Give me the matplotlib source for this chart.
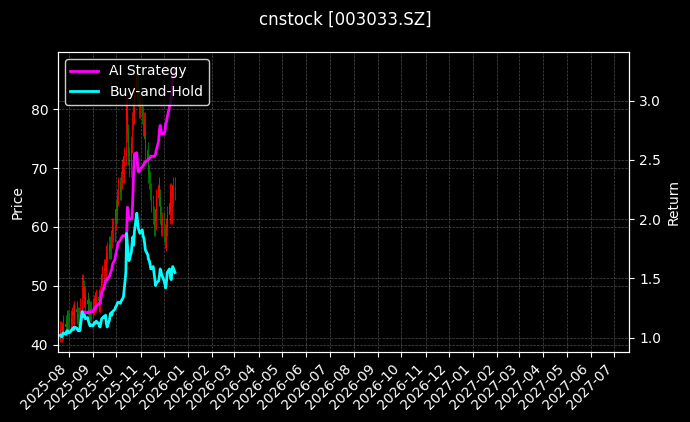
import matplotlib
matplotlib.use("Agg")
import matplotlib.pyplot as plt
import matplotlib.dates as mdates
import pandas as pd
import numpy as np

plt.style.use("dark_background")

dates = pd.bdate_range("2025-07-21", periods=106)

closes = [42.5, 42.0, 42.3, 43.0, 43.5,
          43.0, 44.0, 44.5, 44.0, 43.5,
          44.5, 45.0, 45.5, 45.0, 46.0,
          45.5, 45.0, 44.5, 45.0, 46.5,
          50.5, 49.5, 48.0, 48.5, 47.0,
          47.5, 46.5, 46.0, 45.5, 46.0,
          46.5, 47.0, 47.5, 47.0, 48.0,
          47.5, 47.0, 48.5, 50.0, 52.0,
          53.0, 52.5, 54.0, 55.5, 56.0,
          57.0, 56.0, 58.0, 60.0, 59.0,
          61.0, 63.0, 62.0, 65.0, 67.0,
          66.0, 68.0, 70.0, 69.0, 72.0,
          78.0, 82.0, 76.0, 72.0, 70.0,
          74.0, 78.0, 80.0, 79.0, 83.0,
          86.0, 84.0, 82.0, 80.0, 81.0,
          79.0, 77.0, 78.0, 75.0, 73.0,
          71.0, 69.0, 68.0, 66.0, 64.0,
          62.0, 60.0, 61.0, 63.0, 65.0,
          67.0, 65.0, 62.0, 60.0, 61.0,
          59.0, 58.0, 57.5, 60.0, 62.0,
          64.0, 66.0, 62.0, 65.0, 67.0,
          66.0]
opens = [42.0] + closes[:-1]
wick = 1.5

buy_hold = [1.02, 1.01, 1.01, 1.03, 1.04,
            1.03, 1.05, 1.06, 1.05, 1.04,
            1.06, 1.07, 1.08, 1.07, 1.09,
            1.08, 1.07, 1.06, 1.07, 1.06,
            1.22, 1.20, 1.18, 1.19, 1.16,
            1.17, 1.14, 1.12, 1.10, 1.11,
            1.10, 1.12, 1.13, 1.12, 1.14,
            1.12, 1.10, 1.09, 1.13, 1.16,
            1.18, 1.17, 1.19, 1.12, 1.09,
            1.15, 1.20, 1.21, 1.19, 1.22,
            1.24, 1.26, 1.27, 1.29, 1.30,
            1.29, 1.31, 1.32, 1.33, 1.35,
            1.55, 1.88, 1.78, 1.70, 1.65,
            1.72, 1.80, 1.85, 1.78, 1.90,
            2.05, 1.98, 1.92, 1.90, 1.88,
            1.91, 1.86, 1.84, 1.80, 1.74,
            1.70, 1.66, 1.65, 1.62, 1.58,
            1.60, 1.55, 1.50, 1.44, 1.46,
            1.48, 1.52, 1.58, 1.56, 1.53,
            1.48, 1.45, 1.42, 1.47, 1.55,
            1.58, 1.52, 1.49, 1.55, 1.60,
            1.55]

ai_strategy = [1.02, 1.01, 1.01, 1.03, 1.04,
               1.03, 1.05, 1.06, 1.05, 1.04,
               1.06, 1.07, 1.08, 1.07, 1.09,
               1.08, 1.07, 1.06, 1.07, 1.06,
               1.22, 1.21, 1.21, 1.22, 1.21,
               1.21, 1.22, 1.21, 1.21, 1.22,
               1.22, 1.24, 1.25, 1.25, 1.27,
               1.28, 1.29, 1.29, 1.33, 1.38,
               1.42, 1.45, 1.48, 1.48, 1.49,
               1.52, 1.54, 1.56, 1.58, 1.62,
               1.66, 1.70, 1.73, 1.76, 1.80,
               1.82, 1.84, 1.85, 1.86, 1.86,
               1.86, 1.87, 2.10, 2.05, 2.00,
               2.00, 2.01, 2.20, 2.40, 2.55,
               2.56, 2.45, 2.40, 2.40, 2.42,
               2.44, 2.45, 2.46, 2.48, 2.48,
               2.50, 2.50, 2.51, 2.52, 2.53,
               2.53, 2.53, 2.53, 2.55, 2.58,
               2.66, 2.75, 2.79, 2.76, 2.72,
               2.72, 2.74, 2.80, 2.82, 2.86,
               2.95, 2.97, 3.02, 3.10, 3.18,
               3.26]

fig, ax = plt.subplots(figsize=(6.9, 4.22), dpi=100)
fig.subplots_adjust(left=0.084, right=0.912, top=0.877, bottom=0.166)
fig.suptitle("cnstock [003033.SZ]", fontsize=12, y=0.975)

o = np.array(opens); c = np.array(closes)
up = c >= o
colors = np.where(up, "red", "green")
hi = np.maximum(o, c) + wick
lo = np.minimum(o, c) - wick
ax.vlines(dates, lo, hi, colors=colors, linewidth=0.6)
ax.bar(dates, np.abs(c - o) + 0.1, bottom=np.minimum(o, c), width=0.8, color=colors)
ax.set_ylabel("Price")
ax.set_ylim(38.8, 89.7)
ax.grid(True, color="gray", linestyle="--", linewidth=0.5, alpha=0.6)

ax2 = ax.twinx()
ax2.plot(dates, ai_strategy, color="magenta", linewidth=2, label="AI Strategy")
ax2.plot(dates, buy_hold, color="cyan", linewidth=2, label="Buy-and-Hold")
ax2.set_ylabel("Return")
ax2.set_ylim(0.88, 3.41)
ax2.grid(True, color="gray", linestyle="--", linewidth=0.5, alpha=0.6)
ax2.legend(loc="upper left", facecolor="black", edgecolor="white")

ax.set_xlim(pd.Timestamp("2025-07-18"), pd.Timestamp("2027-07-20"))
ax.xaxis.set_major_locator(mdates.MonthLocator())
ax.xaxis.set_major_formatter(mdates.DateFormatter("%Y-%m"))
plt.setp(ax.get_xticklabels(), rotation=45, ha="right")

fig.savefig("out.png", dpi=100)
